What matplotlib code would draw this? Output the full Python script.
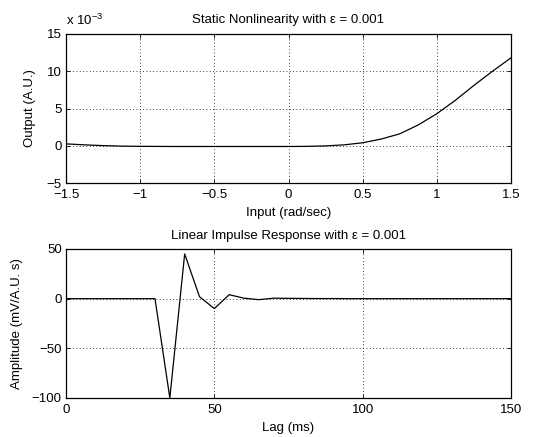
import matplotlib
matplotlib.use("Agg")
import matplotlib.pyplot as plt
import numpy as np

plt.rcParams['font.family'] = ['Liberation Sans', 'DejaVu Sans']
plt.rcParams['font.size'] = 9.5
plt.rcParams['mathtext.fontset'] = 'custom'
plt.rcParams['mathtext.rm'] = 'Liberation Sans'

# Static nonlinearity (output in units of 1e-3)
nl_input = [-1.5, -1.375, -1.25, -1.125, -1.0, -0.75, -0.5, -0.25, 0.0, 0.125, 0.25,
            0.375, 0.5, 0.625, 0.75, 0.875, 1.0, 1.125, 1.25, 1.375, 1.5]
nl_output = [0.25, 0.12, 0.02, -0.05, -0.08, -0.1, -0.1, -0.1, -0.1, -0.08, -0.02,
             0.12, 0.4, 0.9, 1.6, 2.8, 4.3, 6.1, 8.1, 10.0, 11.8]

# Linear impulse response
lags = [0, 5, 10, 15, 20, 25, 30, 35, 40, 45, 50, 55, 60, 65, 70, 75, 80, 85, 90,
        95, 100, 105, 110, 115, 120, 125, 130, 135, 140, 145, 150]
impulse = [0, 0, 0, 0, 0, 0, 0, -100, 45, 2, -10, 4, 0.5, -1, 0.5, 0.3, 0.2, 0.1, 0.1,
           0, 0, 0, 0, 0, 0, 0, 0, 0, 0, 0, 0]

top_xticks = [-1.5, -1, -0.5, 0, 0.5, 1, 1.5]
top_xticklabels = ['\u22121.5', '\u22121', '\u22120.5', '0', '0.5', '1', '1.5']
top_yticks = [-5, 0, 5, 10, 15]
top_yticklabels = ['\u22125', '0', '5', '10', '15']
bot_xticks = [0, 50, 100, 150]
bot_yticks = [-100, -50, 0, 50]
bot_yticklabels = ['\u2212100', '\u221250', '0', '50']

W, H = 548, 437
fig = plt.figure(figsize=(W / 100, H / 100), dpi=100)

def style(ax):
    ax.grid(True, linestyle=(0, (1, 3)), color='black', linewidth=0.6)
    ax.tick_params(direction='in', top=True, right=True, length=3, width=0.6)
    ax.tick_params(axis='y', pad=3)
    ax.tick_params(axis='x', pad=4.5)
    for s in ax.spines.values():
        s.set_linewidth(0.9)

L, R = 66, 511
ax1 = fig.add_axes([L / W, 1 - 183 / H, (R - L) / W, 149 / H])
ax1.plot(nl_input, nl_output, color='black', linewidth=0.9)
ax1.set_xlim(-1.5, 1.5)
ax1.set_ylim(-5, 15)
ax1.set_xticks(top_xticks)
ax1.set_xticklabels(top_xticklabels)
ax1.set_yticks(top_yticks)
ax1.set_yticklabels(top_yticklabels)
style(ax1)
ax1.set_title('Static Nonlinearity with \u03b5 = 0.001', fontsize=9.5, pad=8)
ax1.set_xlabel('Input (rad/sec)', labelpad=4)
ax1.set_ylabel('Output (A.U.)', labelpad=8)
ax1.text(0.0, 1.04, r'x 10$^{-3}$', transform=ax1.transAxes, ha='left', va='bottom', fontsize=9.5)

ax2 = fig.add_axes([L / W, 1 - 398 / H, (R - L) / W, 149 / H])
ax2.plot(lags, impulse, color='black', linewidth=0.9)
ax2.set_xlim(0, 150)
ax2.set_ylim(-100, 50)
ax2.set_xticks(bot_xticks)
ax2.set_yticks(bot_yticks)
ax2.set_yticklabels(bot_yticklabels)
style(ax2)
ax2.set_title('Linear Impulse Response with \u03b5 = 0.001', fontsize=9.5, pad=7)
ax2.set_xlabel('Lag (ms)', labelpad=4)
ax2.set_ylabel('Amplitude (mV/A.U. s)', labelpad=6)

fig.savefig('out.png', dpi=100)
